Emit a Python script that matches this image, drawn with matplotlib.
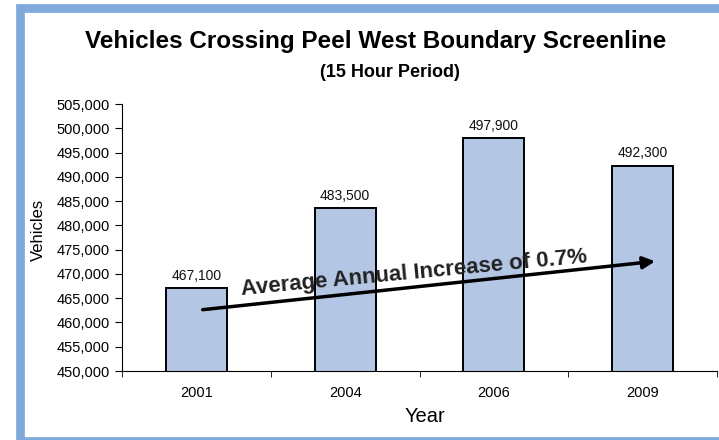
import matplotlib.pyplot as plt
from matplotlib.patches import Rectangle

plt.rcParams['font.family'] = ['Liberation Sans', 'DejaVu Sans']

years = ['2001', '2004', '2006', '2009']
vehicles = [467100, 483500, 497900, 492300]
value_labels = ['467,100', '483,500', '497,900', '492,300']
y_ticks = list(range(450000, 505001, 5000))

fig = plt.figure(figsize=(7.19, 4.40), dpi=100)
ax = fig.add_axes([0.1697, 0.1568, 0.8275, 0.6068])

# bars
x = range(len(years))
ax.bar(x, vehicles, width=0.41, bottom=0, color='#B3C6E4', edgecolor='black', linewidth=1.4, zorder=2)
for xi, v, lab in zip(x, vehicles, value_labels):
    ax.text(xi, v + 1100, lab, ha='center', va='bottom', fontsize=10, color='#111111')

ax.set_xlim(-0.5, len(years) - 0.5)
ax.set_ylim(450000, 505000)

# axes styling
ax.spines['top'].set_visible(False)
ax.spines['right'].set_visible(False)
ax.set_yticks(y_ticks)
ax.set_yticklabels([f'{t:,}' for t in y_ticks], fontsize=10.5)
ax.set_xticks(list(x))
ax.set_xticklabels(years, fontsize=10.5)
ax.set_xticks([i - 0.5 for i in range(len(years) + 1)], minor=True)
ax.tick_params(axis='x', which='major', length=0, pad=11)
ax.tick_params(axis='x', which='minor', length=4, direction='out')
ax.tick_params(axis='y', length=5, direction='out', pad=4)

ax.set_xlabel('Year', fontsize=14.5, labelpad=3)
ax.xaxis.set_label_coords(0.51, -0.135)
ax.set_ylabel('Vehicles', fontsize=12)
ax.yaxis.set_label_coords(-0.128, 0.53)

# trend arrow and annotation
ax.annotate('', xy=(3.103, 472660), xytext=(0.024, 462570),
            arrowprops=dict(arrowstyle='-|>', color='black', lw=2.5, mutation_scale=18), zorder=4)
ax.text(1.47, 468950, 'Average Annual Increase of 0.7%', fontsize=16, fontweight='bold',
        color='#222222', rotation=5.4, rotation_mode='anchor', ha='center', va='baseline', zorder=5)

# titles
fig.text(0.523, 0.905, 'Vehicles Crossing Peel West Boundary Screenline', ha='center', va='center',
         fontsize=17.5, fontweight='bold')
fig.text(0.542, 0.836, '(15 Hour Period)', ha='center', va='center', fontsize=13, fontweight='bold')

# light blue frame
fig.patches.append(Rectangle((20 / 719, -0.5 / 440), 710 / 719, 432 / 440, transform=fig.transFigure,
                             fill=False, edgecolor='#7FAADB', linewidth=6.3, zorder=0))

fig.savefig('out.png', dpi=100)
